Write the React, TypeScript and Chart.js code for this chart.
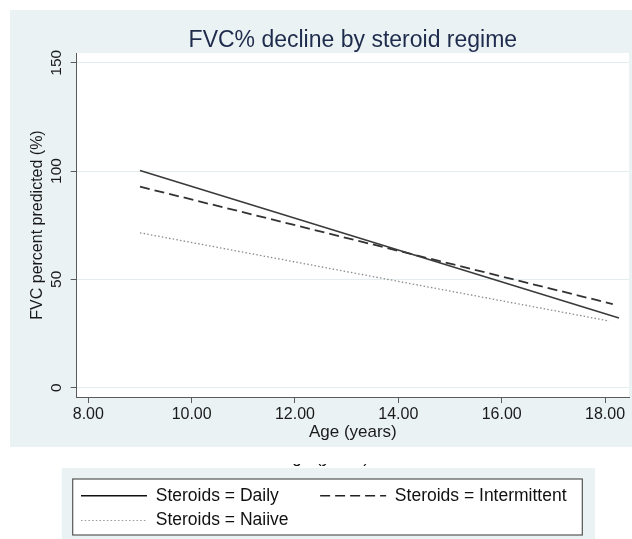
import React, { useEffect, useRef } from 'react';
import { Chart, registerables } from 'chart.js';

Chart.register(...registerables);

const FONT = "'Liberation Sans', Arial, Helvetica, sans-serif";
const PANEL = '#EAF2F3';
const TITLE_COLOR = '#1f2b4c';
const TEXT = '#1a1a1a';
const AXIS = '#5a5a5a';

const chartTitle = 'FVC% decline by steroid regime';
const xAxisTitle = 'Age (years)';
const yAxisTitle = 'FVC percent predicted (%)';
const seriesLabels = ['Steroids = Daily', 'Steroids = Intermittent', 'Steroids = Naiive'];

const xTicks = [8, 10, 12, 14, 16, 18];
const xTickLabels = ['8.00', '10.00', '12.00', '14.00', '16.00', '18.00'];
const yTicks = [0, 50, 100, 150];
const yTickLabels = ['0', '50', '100', '150'];

const dailyAge = [9.0, 18.27];
const dailyFvc = [100.2, 32.2];
const intermittentAge = [9.0, 18.15];
const intermittentFvc = [92.8, 38.6];
const naiiveAge = [9.0, 18.08];
const naiiveFvc = [71.5, 30.8];

const toPoints = (xs: number[], ys: number[]) => xs.map((x, i) => ({ x, y: ys[i] }));

const backdrop = {
  id: 'backdrop',
  afterLayout(chart: any) {
    const lg = chart.legend;
    if (!lg) return;
    const h = lg.height;
    lg.left = 73.7;
    lg.width = 510;
    lg.right = lg.left + lg.width;
    lg.top = 479.65;
    lg.bottom = lg.top + h;
  },
  beforeDraw(chart: any) {
    const { ctx, chartArea } = chart;
    ctx.save();
    ctx.fillStyle = '#ffffff';
    ctx.fillRect(0, 0, chart.width, chart.height);
    ctx.fillStyle = PANEL;
    ctx.fillRect(10, 10, 622, 437);
    ctx.fillStyle = '#ffffff';
    ctx.fillRect(chartArea.left, chartArea.top, chartArea.right - chartArea.left, chartArea.bottom - chartArea.top);

    // clipped remnant of an axis title above the legend
    ctx.save();
    ctx.beginPath();
    ctx.rect(260, 464, 140, 4);
    ctx.clip();
    ctx.fillStyle = '#111';
    ctx.font = `17px ${FONT}`;
    ctx.textAlign = 'left';
    ctx.textBaseline = 'alphabetic';
    ctx.fillText(xAxisTitle, 281, 463);
    ctx.restore();

    ctx.fillStyle = PANEL;
    ctx.fillRect(61.7, 468, 533.3, 71);
    ctx.fillStyle = '#ffffff';
    ctx.fillRect(72.7, 479, 509.6, 56);
    ctx.strokeStyle = '#555';
    ctx.lineWidth = 1.2;
    ctx.strokeRect(72.7, 479, 509.6, 56);

    ctx.fillStyle = TITLE_COLOR;
    ctx.font = `23px ${FONT}`;
    ctx.textAlign = 'center';
    ctx.textBaseline = 'alphabetic';
    ctx.fillText(chartTitle, (chartArea.left + chartArea.right) / 2, 46.5);
    ctx.restore();
  },
};

export default function App() {
  const ref = useRef<HTMLCanvasElement | null>(null);

  useEffect(() => {
    if (!ref.current) return;
    Chart.defaults.font.family = FONT;
    const chart = new Chart(ref.current, {
      type: 'line',
      data: {
        datasets: [
          {
            label: seriesLabels[0],
            data: toPoints(dailyAge, dailyFvc),
            borderColor: '#3a3a3a',
            borderWidth: 1.6,
            pointRadius: 0,
            fill: false,
            tension: 0,
          },
          {
            label: seriesLabels[1],
            data: toPoints(intermittentAge, intermittentFvc),
            borderColor: '#333333',
            borderWidth: 1.8,
            borderDash: [10, 5],
            pointRadius: 0,
            fill: false,
            tension: 0,
          },
          {
            label: seriesLabels[2],
            data: toPoints(naiiveAge, naiiveFvc),
            borderColor: '#8c8c8c',
            borderWidth: 1.3,
            borderDash: [1.5, 2.2],
            pointRadius: 0,
            fill: false,
            tension: 0,
          },
        ],
      },
      options: {
        responsive: false,
        animation: false,
        devicePixelRatio: 1,
        layout: { padding: { top: 53, left: 10, right: 3, bottom: 32.4 } },
        scales: {
          x: {
            type: 'linear',
            min: 7.7755,
            max: 18.464,
            afterBuildTicks: (s: any) => {
              s.ticks = xTicks.map((v) => ({ value: v }));
            },
            afterFit: (s: any) => {
              s.height = 50;
            },
            ticks: {
              autoSkip: false,
              maxRotation: 0,
              minRotation: 0,
              padding: 2.4,
              color: TEXT,
              font: { size: 16, family: FONT },
              callback: (v: any) => {
                const i = xTicks.indexOf(Number(v));
                return i >= 0 ? xTickLabels[i] : '';
              },
            },
            grid: { drawOnChartArea: false, tickColor: AXIS, tickLength: 6, lineWidth: 1 },
            border: { color: AXIS, width: 1 },
            title: {
              display: true,
              text: xAxisTitle,
              color: TEXT,
              font: { size: 17, family: FONT },
              padding: { top: 0, bottom: 4.8 },
            },
          },
          y: {
            type: 'linear',
            min: -4.29,
            max: 154.48,
            afterBuildTicks: (s: any) => {
              s.ticks = yTicks.map((v) => ({ value: v }));
            },
            afterFit: (s: any) => {
              s.width = 66.7;
            },
            ticks: {
              minRotation: 90,
              maxRotation: 90,
              crossAlign: 'center',
              padding: 1.2,
              color: TEXT,
              font: { size: 15.5, family: FONT },
              callback: (v: any) => {
                const i = yTicks.indexOf(Number(v));
                return i >= 0 ? yTickLabels[i] : '';
              },
            },
            grid: { color: '#E3EDEF', tickColor: AXIS, tickLength: 6, lineWidth: 1 },
            border: { color: AXIS, width: 1 },
            title: {
              display: true,
              text: yAxisTitle,
              color: TEXT,
              font: { size: 16, family: FONT },
              padding: { top: 18.4, bottom: 0 },
            },
          },
        },
        plugins: {
          tooltip: { enabled: false },
          title: { display: false },
          legend: {
            display: true,
            position: 'bottom',
            align: 'start',
            labels: {
              usePointStyle: true,
              pointStyle: 'line',
              pointStyleWidth: 66,
              color: '#111',
              padding: 7.3,
              font: { size: 17.5, family: FONT },
              generateLabels: (c: any) => {
                return c.data.datasets.map((ds: any, i: number) => ({
                  text: i === 0 ? ds.label + '\u00a0'.repeat(7) : ds.label,
                  fillStyle: ds.borderColor,
                  strokeStyle: i === 0 ? '#111' : i === 1 ? '#222' : '#9a9a9a',
                  lineWidth: i === 2 ? 1 : 1.5,
                  lineDash: ds.borderDash || [],
                  lineCap: 'butt',
                  pointStyle: 'line',
                  fontColor: '#111',
                  hidden: false,
                  datasetIndex: i,
                }));
              },
            },
          },
        },
      },
      plugins: [backdrop],
    } as any);
    return () => chart.destroy();
  }, []);

  return (
    <div style={{ position: 'absolute', left: 0, top: 0, width: 632, height: 539 }}>
      <canvas ref={ref} width={632} height={539} style={{ width: 632, height: 539, display: 'block' }} />
    </div>
  );
}
